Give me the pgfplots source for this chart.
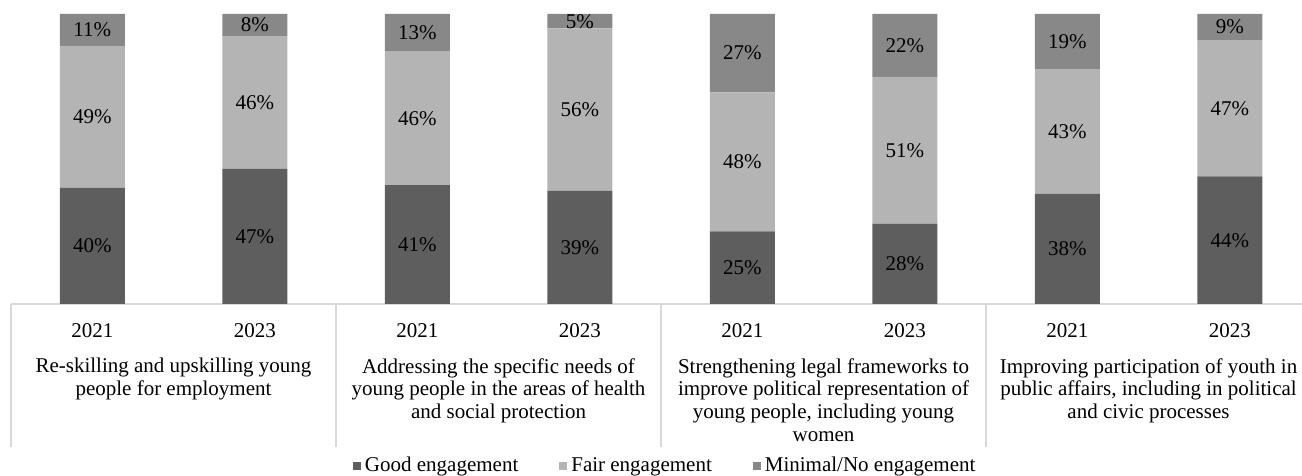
\documentclass[border=0pt]{standalone}
\usepackage{fontspec}
\setmainfont{Liberation Serif}
\usepackage{pgfplots}
\usepackage{pgfplotstable}
\pgfplotsset{compat=1.18}

\definecolor{cgood}{HTML}{5E5E5E}
\definecolor{cfair}{HTML}{B4B4B4}
\definecolor{cmin}{HTML}{888888}
\definecolor{cline}{HTML}{D9D9D9}
\newcommand{\fs}{\fontsize{10.5}{11.4}\selectfont}
\tikzset{catlabel/.style={font=\fs, anchor=north, align=center, inner sep=0pt, yshift=-27pt}}

% x = slot centre, shares in percent
\pgfplotstableread{
x    good  fair  minimal
0.5  40    49    11
1.5  46.6  45.8  7.6
2.5  41    46    13
3.5  39    56    5
4.5  25    48    27
5.5  27.7  50.6  21.7
6.5  38    43    19
7.5  44    47    9
}\datatable

\begin{document}
\begin{tikzpicture}
\path[use as bounding box] (0,0) rectangle (651pt,238pt);
\begin{axis}[
    at={(5.5pt,86pt)}, anchor=south west,
    scale only axis,
    width=650pt, height=145pt,
    xmin=0, xmax=8, ymin=0, ymax=100,
    enlargelimits=false, clip=false,
    ybar stacked, bar width=0.4,
    axis x line=bottom, hide y axis,
    x axis line style={-, draw=cline, line width=0.7pt},
    xtick={0.5,1.5,...,7.5},
    xticklabels={\mbox{2021},\mbox{2023},\mbox{2021},\mbox{2023},\mbox{2021},\mbox{2023},\mbox{2021},\mbox{2023}},
    major tick length=0pt,
    xticklabel style={font=\fs, text=black, yshift=-6pt},
    extra x ticks={0,2,4,6,8},
    extra x tick labels={},
    extra x tick style={major tick length=71.5pt, tick align=outside,
        tick style={draw=cline, line width=0.7pt}},
    legend style={at={(0.504,-0.5586)}, anchor=center, legend columns=3,
        draw=none, fill=none, font=\fs,
        /tikz/every even column/.append style={column sep=18.5pt}},
    legend image code/.code={\fill[#1] (0pt,-2pt) rectangle (4pt,2pt);},
]
\addplot[fill=cgood, draw=none] table[x=x, y=good] {\datatable};
\addplot[fill=cfair, draw=none] table[x=x, y=fair] {\datatable};
\addplot[fill=cmin, draw=none] table[x=x, y=minimal] {\datatable};
\legend{Good engagement, Fair engagement, Minimal/No engagement}

\node[catlabel] at (axis cs:1,0) {Re-skilling and upskilling young\\people for employment};
\node[catlabel] at (axis cs:3,0) {Addressing the specific needs of\\young people in the areas of health\\and social protection};
\node[catlabel] at (axis cs:5,0) {Strengthening legal frameworks to\\improve political representation of\\young people, including young\\women};
\node[catlabel] at (axis cs:7,0) {Improving participation of youth in\\public affairs, including in political\\and civic processes};
\end{axis}

% data labels, centred in each segment
\begin{axis}[
    at={(5.5pt,86pt)}, anchor=south west,
    scale only axis,
    width=650pt, height=145pt,
    xmin=0, xmax=8, ymin=0, ymax=100,
    enlargelimits=false, clip=false,
    hide axis,
    point meta=explicit,
    /pgf/number format/assume math mode=true,
    nodes near coords={\pgfmathprintnumber[fixed,precision=0]{\pgfplotspointmeta}\%},
    every node near coord/.append style={font=\fs, text=black, anchor=center},
]
\addplot[draw=none, mark=none] table[x=x, y expr=\thisrow{good}/2, meta=good] {\datatable};
\addplot[draw=none, mark=none] table[x=x, y expr=\thisrow{good}+\thisrow{fair}/2, meta=fair] {\datatable};
\addplot[draw=none, mark=none] table[x=x, y expr=\thisrow{good}+\thisrow{fair}+\thisrow{minimal}/2, meta=minimal] {\datatable};
\end{axis}
\end{tikzpicture}
\end{document}
